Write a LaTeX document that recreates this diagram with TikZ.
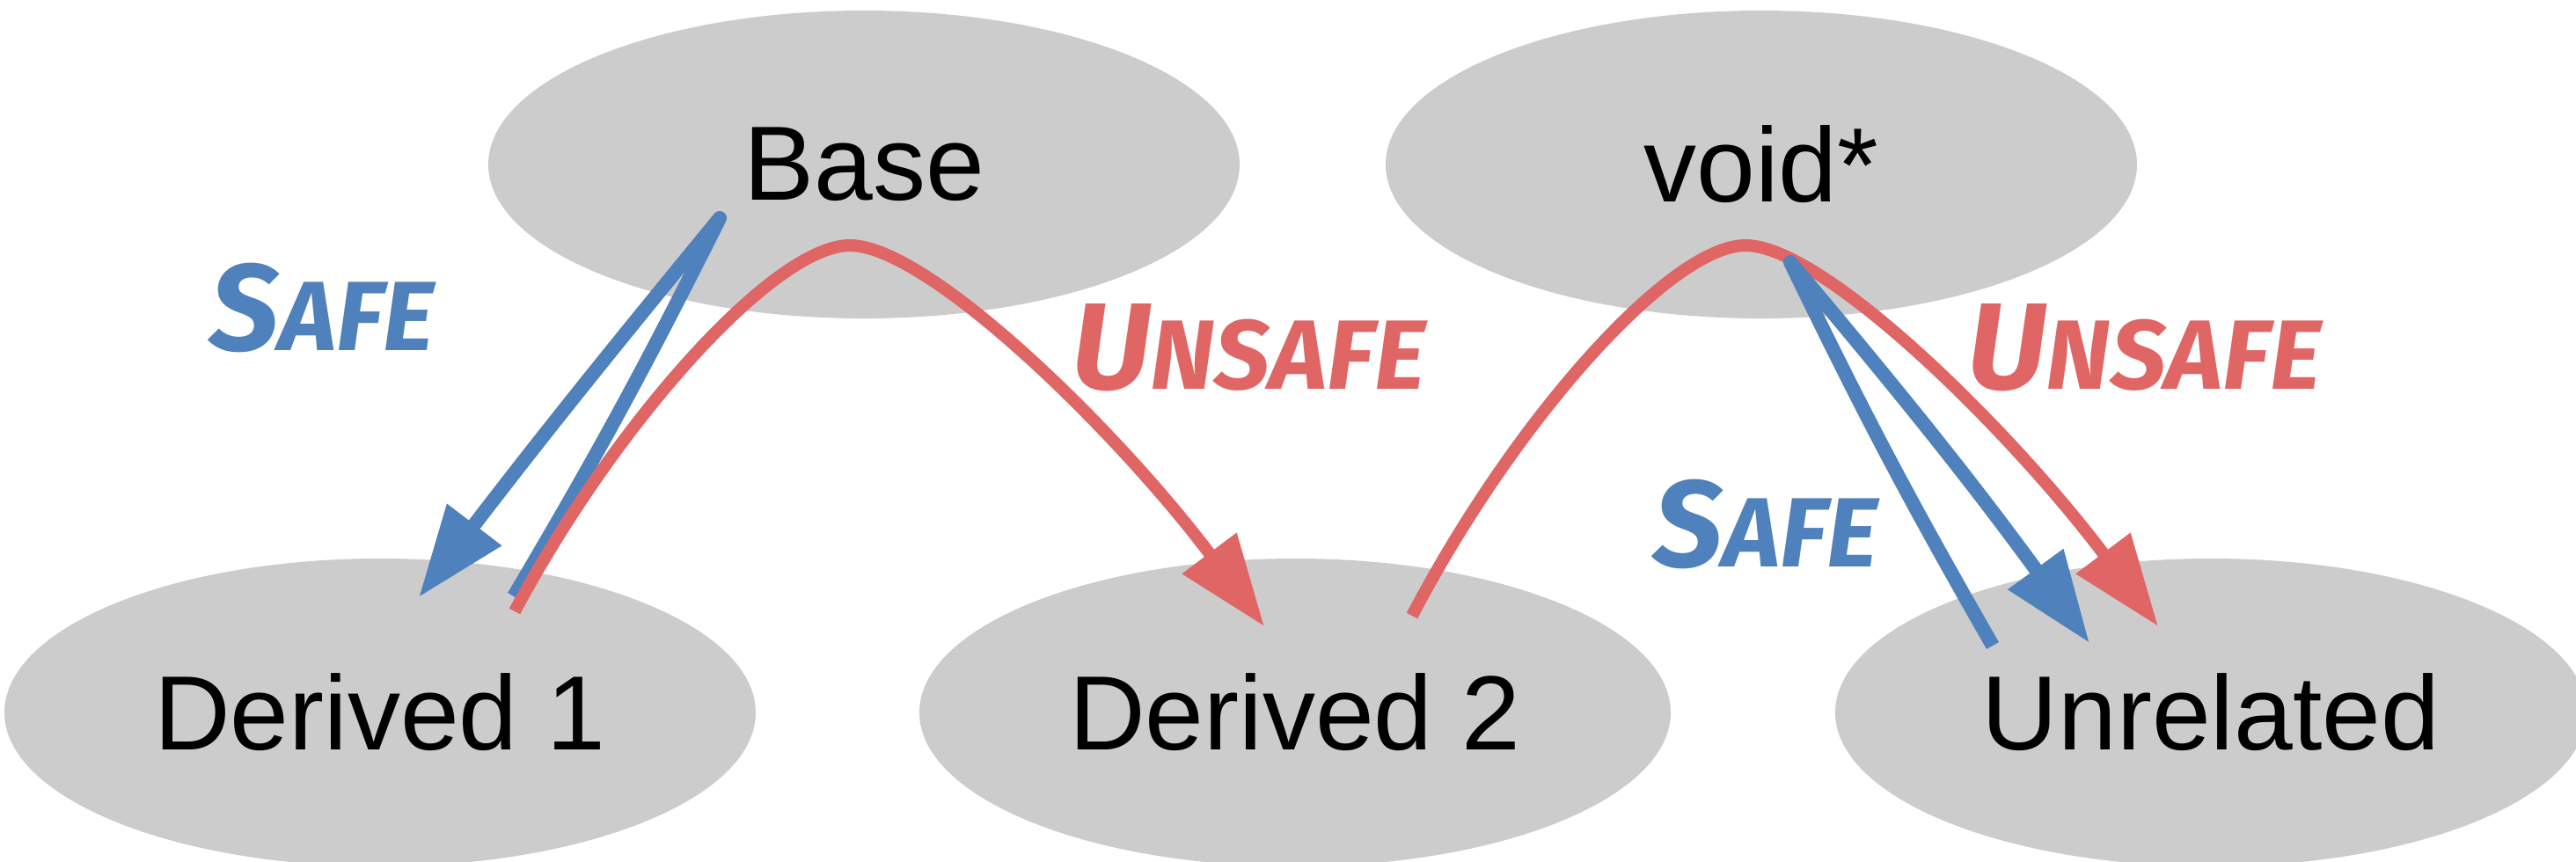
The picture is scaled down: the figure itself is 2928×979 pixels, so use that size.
\documentclass[tikz,border=0pt]{standalone}
\usepackage{fontspec}
\setmainfont{Liberation Sans}
\newfontfamily\brushfont{Fira Sans}
\usetikzlibrary{positioning,shapes.geometric,arrows.meta}

\definecolor{ovalgray}{HTML}{CCCCCC}
\definecolor{safeblue}{HTML}{4F81BD}
\definecolor{unsafered}{HTML}{E06666}

\newcommand{\safeword}{{\fontsize{35}{35}\selectfont S}{\fontsize{28}{28}\selectfont AFE}}
\newcommand{\unsafeword}{{\fontsize{35}{35}\selectfont U}{\fontsize{28}{28}\selectfont NSAFE}}

\begin{document}
\begin{tikzpicture}[x=0.25pt,y=-0.25pt]
    \tikzstyle{class}=[ellipse,fill=ovalgray,minimum width=213.5pt,minimum height=87.5pt,inner sep=0,font=\fontsize{30}{36}\selectfont]
    \tikzstyle{cast}=[line join=round,line cap=butt,-{Triangle[length=26pt,width=18.5pt]}]
    \tikzstyle{safe}=[cast,draw=safeblue,line width=4pt]
    \tikzstyle{unsafe}=[cast,draw=unsafered,line width=3.5pt]
    \tikzstyle{verdict}=[inner sep=0,font=\brushfont\bfseries\itshape]
    {
        \useasboundingbox (0,0) rectangle (2928,979);

        \node[class] (base) at (982,187) {Base};
        \node[class] (voidp) at (2002,187) {void*};
        \node[class] (derived1) at (432,810) {Derived 1};
        \node[class] (derived2) at (1472,810) {Derived 2};
        \node[class] (unrelated) at (2513,810) {Unrelated};

        % ends of the casts
        \coordinate (sa0) at (584,678);
        \coordinate (sa1) at (818,248);
        \coordinate (sa2) at (476,679);
        \coordinate (ua0) at (585,695);
        \coordinate (ua1) at (966,279);
        \coordinate (ua2) at (1437,712);
        \coordinate (ub0) at (1605,700);
        \coordinate (ub1) at (1984,279);
        \coordinate (ub2) at (2453,712);
        \coordinate (sb0) at (2265,734);
        \coordinate (sb1) at (2035,298);
        \coordinate (sb2) at (2375,731);

        \draw[safe] (sa0) to[bend right=2] (sa1) to[bend right=1] (sa2);
        \draw[unsafe] (ua0) .. controls (700,480) and (880,279) .. (ua1)
            .. controls (1055,279) and (1270,490) .. (ua2);
        \draw[unsafe] (ub0) .. controls (1720,480) and (1898,279) .. (ub1)
            .. controls (2073,279) and (2286,490) .. (ub2);
        \draw[safe] (sb0) to[bend left=2] (sb1) to[bend left=2] (sb2);

        \node[verdict,text=safeblue] (safe1) at (366,350) {\safeword};
        \node[verdict,text=unsafered] (unsafe1) at (1419,395) {\unsafeword};
        \node[verdict,text=unsafered] (unsafe2) at (2437,395) {\unsafeword};
        \node[verdict,text=safeblue] (safe2) at (2007,596) {\safeword};
    }
\end{tikzpicture}
\end{document}
